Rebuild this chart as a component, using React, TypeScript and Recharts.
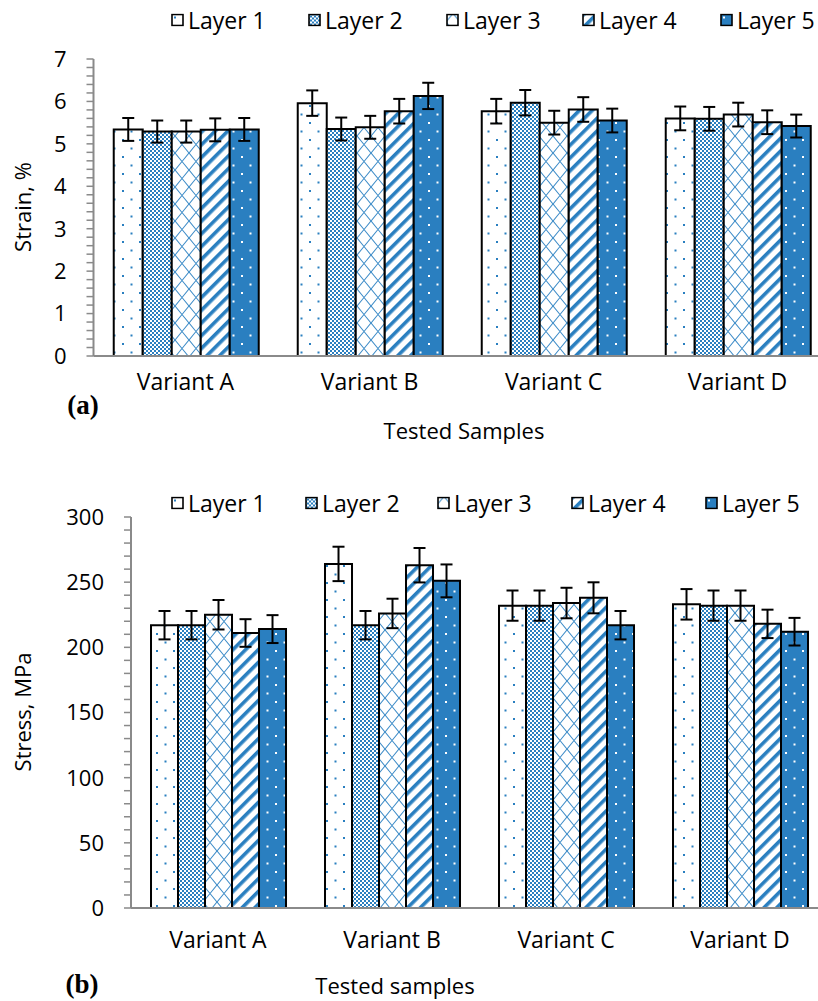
import React from 'react';
import { BarChart, Bar, XAxis, YAxis, ErrorBar } from 'recharts';

// ---------- data ----------
const CATEGORIES = ['Variant A', 'Variant B', 'Variant C', 'Variant D'];
const LAYER_NAMES = ['Layer 1', 'Layer 2', 'Layer 3', 'Layer 4', 'Layer 5'];

// (a) Strain, %
const STRAIN_L1 = [5.34, 5.96, 5.77, 5.6];
const STRAIN_L2 = [5.29, 5.35, 5.97, 5.59];
const STRAIN_L3 = [5.29, 5.39, 5.5, 5.69];
const STRAIN_L4 = [5.33, 5.77, 5.81, 5.51];
const STRAIN_L5 = [5.34, 6.13, 5.55, 5.42];
const STRAIN_ERR_L1 = [0.27, 0.3, 0.29, 0.28];
const STRAIN_ERR_L2 = [0.26, 0.27, 0.3, 0.28];
const STRAIN_ERR_L3 = [0.26, 0.27, 0.28, 0.28];
const STRAIN_ERR_L4 = [0.27, 0.29, 0.29, 0.28];
const STRAIN_ERR_L5 = [0.27, 0.31, 0.28, 0.27];
const STRAIN_TICKS = [0, 1, 2, 3, 4, 5, 6, 7];

// (b) Stress, MPa
const STRESS_L1 = [217, 264, 232, 233];
const STRESS_L2 = [217, 217, 232, 232];
const STRESS_L3 = [225, 226, 234, 232];
const STRESS_L4 = [211, 263, 238, 218];
const STRESS_L5 = [214, 251, 217, 212];
const STRESS_ERR_L1 = [10.9, 13.2, 11.6, 11.7];
const STRESS_ERR_L2 = [10.9, 10.9, 11.6, 11.6];
const STRESS_ERR_L3 = [11.3, 11.3, 11.7, 11.6];
const STRESS_ERR_L4 = [10.6, 13.2, 11.9, 10.9];
const STRESS_ERR_L5 = [10.7, 12.6, 10.9, 10.6];
const STRESS_TICKS = [0, 50, 100, 150, 200, 250, 300];

// ---------- helpers ----------
const BLUE = '#2a7fc0';
const AXIS_GREY = '#8a8a8a';
const FONT = '"Open Sans", "Noto Sans", sans-serif';

function buildRows(layers: number[][], errs: number[][]) {
  return CATEGORIES.map((name, i) => {
    const row: any = { name };
    layers.forEach((arr, k) => {
      row['l' + (k + 1)] = arr[i];
      row['e' + (k + 1)] = errs[k][i];
    });
    return row;
  });
}

function withMinor(majors: number[], subdivisions: number) {
  const out: number[] = [];
  for (let i = 0; i < majors.length; i++) {
    out.push(majors[i]);
    if (i < majors.length - 1) {
      const step = (majors[i + 1] - majors[i]) / subdivisions;
      for (let k = 1; k < subdivisions; k++) out.push(+(majors[i] + step * k).toFixed(6));
    }
  }
  return out;
}

const strainRows = buildRows(
  [STRAIN_L1, STRAIN_L2, STRAIN_L3, STRAIN_L4, STRAIN_L5],
  [STRAIN_ERR_L1, STRAIN_ERR_L2, STRAIN_ERR_L3, STRAIN_ERR_L4, STRAIN_ERR_L5]
);
const stressRows = buildRows(
  [STRESS_L1, STRESS_L2, STRESS_L3, STRESS_L4, STRESS_L5],
  [STRESS_ERR_L1, STRESS_ERR_L2, STRESS_ERR_L3, STRESS_ERR_L4, STRESS_ERR_L5]
);

function renderPatterns(p: string) {
  return (
    <defs>
      <pattern id={p + '-p1'} patternUnits="userSpaceOnUse" width={17} height={17}>
        <rect width={17} height={17} fill="#fff" />
        <rect x={3} y={3} width={2} height={2} fill={BLUE} />
        <rect x={11.5} y={11.5} width={2} height={2} fill={BLUE} />
      </pattern>
      <pattern id={p + '-p2'} patternUnits="userSpaceOnUse" width={4} height={4}>
        <rect width={4} height={4} fill="#fff" />
        <rect x={0} y={0} width={2} height={2} fill={BLUE} />
        <rect x={2} y={2} width={2} height={2} fill={BLUE} />
      </pattern>
      <pattern id={p + '-p3'} patternUnits="userSpaceOnUse" width={14} height={17}>
        <rect width={14} height={17} fill="#fff" />
        <path d="M0 8.5 L7 0 L14 8.5 L7 17 Z" fill="none" stroke="#3d8cc8" strokeWidth={1.1} />
      </pattern>
      <pattern id={p + '-p4'} patternUnits="userSpaceOnUse" width={9} height={9} patternTransform="rotate(45)">
        <rect width={9} height={9} fill="#fff" />
        <rect x={0} y={0} width={3.6} height={9} fill={BLUE} />
      </pattern>
      <pattern id={p + '-p5'} patternUnits="userSpaceOnUse" width={17} height={17}>
        <rect width={17} height={17} fill={BLUE} />
        <rect x={3} y={3} width={2} height={2} fill="#fff" />
        <rect x={11.5} y={11.5} width={2} height={2} fill="#fff" />
      </pattern>
    </defs>
  );
}

type PanelProps = {
  prefix: string;
  rows: any[];
  majors: number[];
  subdivisions: number;
  width: number;
  height: number;
  margin: { top: number; right: number; bottom: number; left: number };
  yAxisWidth: number;
  xLabelDy: number;
  gap: string;
};

function Panel(props: PanelProps) {
  const { prefix, rows, majors, subdivisions, width, height, margin, yAxisWidth, xLabelDy, gap } = props;
  const ticks = withMinor(majors, subdivisions);
  const axisX = margin.left + yAxisWidth;
  const YTick = (tp: any) => {
    const v = tp.payload.value;
    const isMajor = majors.some((m) => Math.abs(m - v) < 1e-6);
    if (!isMajor) return <g />;
    return (
      <text x={axisX - 27} y={tp.y} dy="0.36em" textAnchor="end" fontSize={22} fill="#000" fontFamily={FONT}>
        {String(v)}
      </text>
    );
  };
  const XTick = (tp: any) => (
    <text x={tp.x} y={tp.y} dy={xLabelDy} textAnchor="middle" fontSize={23} fill="#000" fontFamily={FONT}>
      {tp.payload.value}
    </text>
  );
  return (
    <BarChart width={width} height={height} data={rows} margin={margin} barGap={0} barCategoryGap={gap}>
      {renderPatterns(prefix)}
      <XAxis
        dataKey="name"
        height={30}
        axisLine={{ stroke: AXIS_GREY, strokeWidth: 2 }}
        tickLine={false}
        tickSize={0}
        tickMargin={0}
        tick={XTick}
        interval={0}
      />
      <YAxis
        width={yAxisWidth}
        domain={[majors[0], majors[majors.length - 1]]}
        ticks={ticks}
        interval={0}
        axisLine={{ stroke: AXIS_GREY, strokeWidth: 2 }}
        tickLine={{ stroke: AXIS_GREY, strokeWidth: 1.5 }}
        tickSize={7}
        tick={YTick}
      />
      {[1, 2, 3, 4, 5].map((k) => (
        <Bar
          key={k}
          dataKey={'l' + k}
          name={LAYER_NAMES[k - 1]}
          fill={`url(#${prefix}-p${k})`}
          stroke="#000"
          strokeWidth={2}
          isAnimationActive={false}
        >
          <ErrorBar dataKey={'e' + k} width={6} stroke="#000" strokeWidth={2} isAnimationActive={false} />
        </Bar>
      ))}
    </BarChart>
  );
}

function LegendRow({ prefix, xs, y }: { prefix: string; xs: number[]; y: number }) {
  return (
    <>
      {LAYER_NAMES.map((name, i) => (
        <div
          key={name}
          style={{
            position: 'absolute',
            left: xs[i],
            top: y,
            transform: 'translateY(-50%)',
            display: 'flex',
            alignItems: 'center',
            fontFamily: FONT,
            fontSize: 23,
            whiteSpace: 'nowrap',
            lineHeight: 1,
          }}
        >
          <svg width={13} height={13} style={{ marginRight: 4 }}>
            <rect x={1} y={1} width={11} height={11} fill={`url(#${prefix}-p${i + 1})`} stroke="#000" strokeWidth={1.6} />
          </svg>
          <span>{name}</span>
        </div>
      ))}
    </>
  );
}

const abs = (x: number, y: number, extra: React.CSSProperties = {}): React.CSSProperties => ({
  position: 'absolute',
  left: x,
  top: y,
  transform: 'translate(-50%, -50%)',
  whiteSpace: 'nowrap',
  lineHeight: 1,
  ...extra,
});

export default function App() {
  return (
    <div
      style={{
        position: 'absolute',
        left: 0,
        top: 0,
        width: 818,
        height: 1001,
        overflow: 'hidden',
        background: '#fff',
        fontFamily: FONT,
      }}
    >
      {/* Panel (a) */}
      <div style={{ position: 'absolute', left: 0, top: 0 }}>
        <Panel
          prefix="a"
          rows={strainRows}
          majors={STRAIN_TICKS}
          subdivisions={5}
          width={840}
          height={460}
          margin={{ top: 59, right: 10.5, bottom: 74, left: 0 }}
          yAxisWidth={93.5}
          xLabelDy={34}
          gap="11%"
        />
      </div>
      <LegendRow prefix="a" xs={[171, 308, 446, 582, 720]} y={20} />
      <div style={abs(22, 207, { transform: 'translate(-50%, -50%) rotate(-90deg)', fontSize: 22 })}>Strain, %</div>
      <div style={abs(464, 430, { fontSize: 22 })}>Tested Samples</div>
      <div style={abs(83, 405, { fontSize: 27, fontWeight: 'bold', fontFamily: '"Liberation Serif", "DejaVu Serif", serif' })}>(a)</div>

      {/* Panel (b) */}
      <div style={{ position: 'absolute', left: 0, top: 460 }}>
        <Panel
          prefix="b"
          rows={stressRows}
          majors={STRESS_TICKS}
          subdivisions={5}
          width={840}
          height={541}
          margin={{ top: 57, right: 13, bottom: 63, left: 0 }}
          yAxisWidth={131}
          xLabelDy={40}
          gap="11.5%"
        />
      </div>
      <LegendRow prefix="b" xs={[171, 305, 437, 571, 705]} y={503} />
      <div style={abs(22, 712, { transform: 'translate(-50%, -50%) rotate(-90deg)', fontSize: 22 })}>Stress, MPa</div>
      <div style={abs(395, 985, { fontSize: 22 })}>Tested samples</div>
      <div style={abs(82, 984, { fontSize: 27, fontWeight: 'bold', fontFamily: '"Liberation Serif", "DejaVu Serif", serif' })}>(b)</div>
    </div>
  );
}
